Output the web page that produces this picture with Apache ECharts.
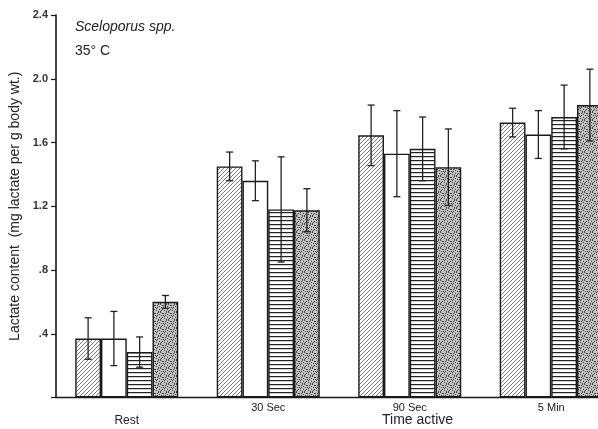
<!DOCTYPE html>
<html>
<head>
<meta charset="utf-8">
<style>
html,body{margin:0;padding:0;background:#fff;}
#c{width:598px;height:429px;}
</style>
<script src="https://cdn.jsdelivr.net/npm/echarts@6/dist/echarts.min.js"></script>
</head>
<body>
<div id="c"></div>
<script>
// ---- data ----
const categories = ['Rest', '30 Sec', '90 Sec', '5 Min'];
const meanA = [0.37, 1.45, 1.645, 1.725];
const errA  = [0.13, 0.09, 0.19, 0.09];
const meanB = [0.37, 1.36, 1.53, 1.65];
const errB  = [0.17, 0.125, 0.27, 0.15];
const meanC = [0.285, 1.18, 1.56, 1.76];
const errC  = [0.095, 0.33, 0.2, 0.2];
const meanD = [0.60, 1.175, 1.445, 1.835];
const errD  = [0.04, 0.135, 0.24, 0.225];
const yTickLabels = {'0.4': '.4', '0.8': '.8', '1.2': '1.2', '1.6': '1.6', '2': '2.0', '2.4': '2.4'};

// ---- patterns ----
function tile(w, h, draw) {
  const cv = document.createElement('canvas');
  cv.width = w; cv.height = h;
  const g = cv.getContext('2d');
  draw(g, w, h);
  return { image: cv, repeat: 'repeat' };
}
const hatchDiag = tile(4, 4, (g, w, h) => {
  g.fillStyle = '#fff'; g.fillRect(0, 0, w, h);
  g.strokeStyle = '#555'; g.lineWidth = 0.8;
  g.beginPath();
  g.moveTo(-1, h + 1); g.lineTo(w + 1, -1);
  g.moveTo(-1, 1); g.lineTo(1, -1);
  g.moveTo(w - 1, h + 1); g.lineTo(w + 1, h - 1);
  g.stroke();
});
const plainWhite = '#ffffff';
const hatchHoriz = tile(4, 4, (g, w, h) => {
  g.fillStyle = '#fff'; g.fillRect(0, 0, w, h);
  g.fillStyle = '#222'; g.fillRect(0, 0, w, 1.2);
});
const stippleDots = [[0,0],[3,1],[6,0],[1,3],[5,3],[2,5],[7,5],[4,6],[0,7],[6,7],[3,3],[7,2],[1,6],[5,1],[4,4],[2,1]];
const stipple = tile(8, 8, (g, w, h) => {
  g.fillStyle = '#c4c4c4'; g.fillRect(0, 0, w, h);
  g.fillStyle = '#3a3a3a';
  stippleDots.forEach(p => g.fillRect(p[0], p[1], 1, 1));
});

const BAR_FRAC = 0.182;
const groups = [
  { name: 'A', mean: meanA, err: errA, color: hatchDiag },
  { name: 'B', mean: meanB, err: errB, color: plainWhite },
  { name: 'C', mean: meanC, err: errC, color: hatchHoriz },
  { name: 'D', mean: meanD, err: errD, color: stipple }
];

const series = [];
groups.forEach((s, j) => {
  series.push({
    type: 'bar', name: s.name, data: s.mean,
    barWidth: (BAR_FRAC * 100) + '%', barGap: '0%',
    itemStyle: { color: s.color, borderColor: '#1a1a1a', borderWidth: 1.4 },
    z: 2
  });
});
groups.forEach((s, j) => {
  series.push({
    type: 'custom', name: s.name + ' err',
    data: s.mean.map((m, i) => [i, m - s.err[i], m + s.err[i]]),
    z: 5,
    renderItem: function (params, api) {
      const i = api.value(0);
      const lo = api.coord([i, api.value(1)]);
      const hi = api.coord([i, api.value(2)]);
      const band = api.size([1, 0])[0];
      const bw = band * BAR_FRAC;
      const x = lo[0] + (j - 1.5) * bw;
      const cap = 3.5;
      const st = { stroke: '#222', lineWidth: 1.3 };
      return {
        type: 'group', children: [
          { type: 'line', shape: { x1: x, y1: lo[1], x2: x, y2: hi[1] }, style: st },
          { type: 'line', shape: { x1: x - cap, y1: hi[1], x2: x + cap, y2: hi[1] }, style: st },
          { type: 'line', shape: { x1: x - cap, y1: lo[1], x2: x + cap, y2: lo[1] }, style: st }
        ]
      };
    }
  });
});

const chart = echarts.init(document.getElementById('c'), null, { renderer: 'canvas' });
chart.setOption({
  animation: false,
  backgroundColor: '#fff',
  textStyle: { fontFamily: 'Liberation Sans, Arial, sans-serif' },
  grid: { left: 56, top: 15, width: 566, height: 382.5, outerBoundsMode: 'none', containLabel: false },
  xAxis: {
    type: 'category', data: categories,
    axisLine: { lineStyle: { color: '#1a1a1a', width: 1.4 } },
    axisTick: { show: false },
    axisLabel: {
      margin: 5,
      formatter: v => v === 'Rest' ? '{r|' + v + '}' : '{n|' + v + '}',
      rich: {
        r: { fontSize: 12, color: '#222', padding: [12, 0, 0, 0] },
        n: { fontSize: 11, color: '#222' }
      }
    }
  },
  yAxis: {
    type: 'value', min: 0, max: 2.4, interval: 0.4,
    name: 'Lactate content  (mg lactate per g body wt.)',
    nameLocation: 'middle', nameGap: 31,
    nameTextStyle: { fontSize: 14, color: '#222' },
    axisLine: { show: true, lineStyle: { color: '#1a1a1a', width: 1.6 } },
    axisTick: { show: true, length: 5, lineStyle: { color: '#1a1a1a', width: 1.2 } },
    splitLine: { show: false },
    axisLabel: {
      margin: 8, fontSize: 11, fontWeight: 'bold', color: '#333',
      formatter: v => yTickLabels[String(Math.round(v * 10) / 10)] || ''
    }
  },
  graphic: [
    { type: 'text', left: 75, top: 20, style: { text: 'Sceloporus spp.', font: 'italic 14px Liberation Sans, Arial, sans-serif', fill: '#222' } },
    { type: 'text', left: 75, top: 44, style: { text: '35° C', font: '14px Liberation Sans, Arial, sans-serif', fill: '#222' } },
    { type: 'text', left: 382, top: 413, style: { text: 'Time active', font: '14px Liberation Sans, Arial, sans-serif', fill: '#222' } }
  ],
  series: series
});
</script>
</body>
</html>
